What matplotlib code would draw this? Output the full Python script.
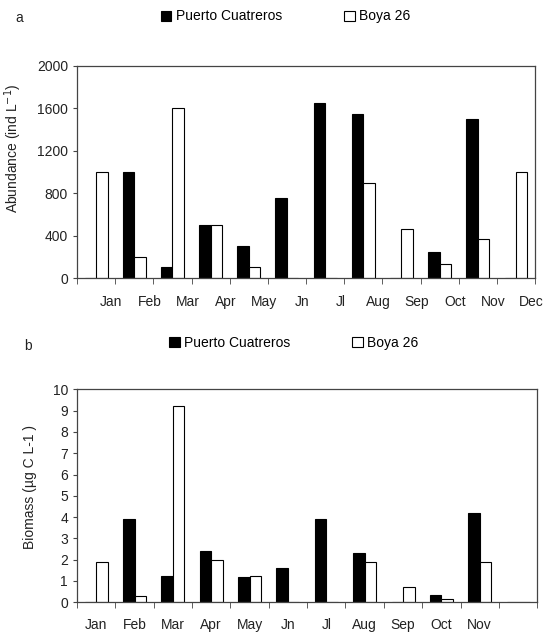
import numpy as np
import matplotlib
matplotlib.use("Agg")
import matplotlib.pyplot as plt
from matplotlib.patches import Patch

plt.rcParams['font.family'] = ['Liberation Sans', 'DejaVu Sans']

# Data
months_a = ['Jan', 'Feb', 'Mar', 'Apr', 'May', 'Jn', 'Jl', 'Aug', 'Sep', 'Oct', 'Nov', 'Dec']
months_b = ['Jan', 'Feb', 'Mar', 'Apr', 'May', 'Jn', 'Jl', 'Aug', 'Sep', 'Oct', 'Nov', '']
series = ['Puerto Cuatreros', 'Boya 26']

abund_pc = [0, 1000, 100, 500, 300, 750, 1650, 1550, 0, 250, 1500, 0]
abund_b26 = [1000, 200, 1600, 500, 100, 0, 0, 900, 460, 130, 370, 1000]

biom_pc = [0, 3.9, 1.25, 2.4, 1.2, 1.6, 3.9, 2.3, 0, 0.35, 4.2, 0]
biom_b26 = [1.9, 0.3, 9.2, 2.0, 1.25, 0, 0, 1.9, 0.7, 0.15, 1.9, 0]

fig = plt.figure(figsize=(5.46, 6.32), dpi=100)
ax1 = fig.add_axes([0.141, 0.560, 0.839, 0.336])
ax2 = fig.add_axes([0.141, 0.047, 0.843, 0.337])

x = np.arange(12)
w = 0.3
spine_col = '#444444'


def draw_panel(ax, pc, b26, ylim, yticks, labels, label_shift, ylabel, pad, ylab_xy):
    ax.bar(x - w / 2, pc, w, color='black', edgecolor='black', linewidth=0.8)
    ax.bar(x + w / 2, b26, w, color='white', edgecolor='black', linewidth=0.8)
    ax.set_xlim(-0.5, 11.5)
    ax.set_ylim(*ylim)
    ax.set_yticks(yticks)
    ax.set_xticks(x + label_shift)
    ax.set_xticklabels(labels)
    ax.set_xticks(np.arange(-0.5, 12, 1), minor=True)
    ax.tick_params(axis='x', which='major', length=0, pad=pad, labelsize=10, colors='#222222')
    ax.tick_params(axis='x', which='minor', length=4, direction='out', color=spine_col)
    ax.tick_params(axis='y', length=3, direction='out', labelsize=10, colors='#222222', color=spine_col)
    for s in ax.spines.values():
        s.set_color(spine_col)
        s.set_linewidth(0.9)
    ax.set_ylabel(ylabel, fontsize=10, color='#222222')
    ax.yaxis.set_label_coords(*ylab_xy)


draw_panel(ax1, abund_pc, abund_b26, (0, 2000), np.arange(0, 2001, 400),
           months_a, 0.4, 'Abundance (ind L$^{-1}$)', 12.5, (-0.116, 0.613))
draw_panel(ax2, biom_pc, biom_b26, (0, 10), np.arange(0, 11, 1),
           months_b, 0.0, 'Biomass (µg C L-1 )', 11, (-0.087, 0.54))

handles = [Patch(facecolor='black', edgecolor='black', linewidth=0.8),
           Patch(facecolor='white', edgecolor='black', linewidth=0.8)]

fig.legend(handles, series, loc='center', bbox_to_anchor=(0.523, 0.974), ncol=2,
           frameon=False, fontsize=10, handlelength=0.75, handleheight=0.75,
           handletextpad=0.3, columnspacing=4.5)
fig.legend(handles, series, loc='center', bbox_to_anchor=(0.538, 0.457), ncol=2,
           frameon=False, fontsize=10, handlelength=0.75, handleheight=0.75,
           handletextpad=0.3, columnspacing=4.5)

fig.text(0.028, 0.972, 'a', fontsize=10, color='#222222', va='center')
fig.text(0.044, 0.452, 'b', fontsize=10, color='#222222', va='center')

fig.savefig('out.png', dpi=100)
